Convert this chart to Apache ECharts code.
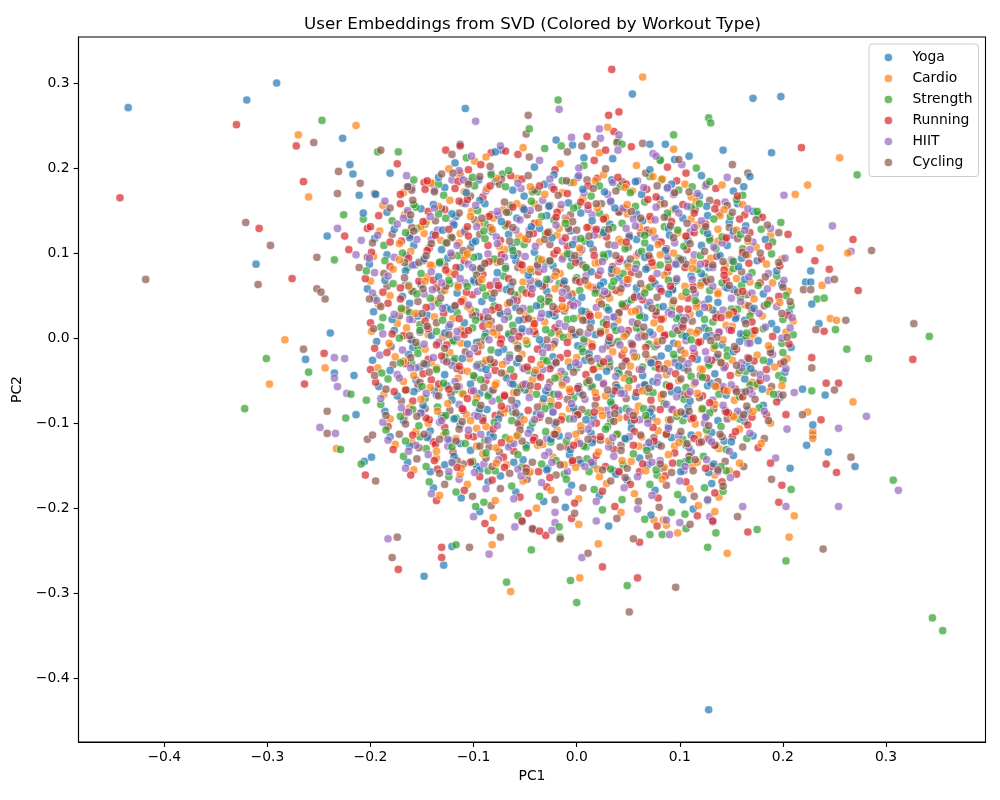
<!DOCTYPE html>
<html>
<head>
<meta charset="utf-8">
<title>User Embeddings from SVD</title>
<script src="https://cdn.jsdelivr.net/npm/echarts@6/dist/echarts.min.js"></script>
<style>
  html, body { margin: 0; padding: 0; background: #fff; }
  #chart { width: 1000px; height: 800px; }
</style>
</head>
<body>
<div id="chart"></div>
<script>
// ---- data (PC1, PC2) ----
var TYPES = ['Yoga', 'Cardio', 'Strength', 'Running', 'HIIT', 'Cycling'];
var COLORS = ['#1f77b4', '#ff7f0e', '#2ca02c', '#d62728', '#9467bd', '#8c564b'];

// outer / sparse points
var yogaEdge = [[-0.435,0.271],[-0.291,0.300],[-0.320,0.280],[-0.227,0.235],[-0.220,0.204],[-0.217,0.193],[-0.211,0.168],[-0.207,0.147],[-0.242,0.120],[-0.311,0.087],[-0.239,0.006],[-0.263,-0.025],[-0.235,-0.041],[-0.216,-0.044],[-0.214,-0.090],[-0.199,-0.140],[-0.206,-0.145],[0.171,0.282],[0.198,0.284],[0.142,0.221],[0.189,0.218],[0.168,0.190],[0.162,0.178],[0.227,0.079],[0.222,0.066],[0.227,0.066],[0.228,0.040],[0.235,0.017],[0.241,-0.067],[0.219,-0.060],[0.229,-0.102],[0.223,-0.126],[0.244,-0.134],[0.270,-0.151],[0.207,-0.153],[-0.148,-0.280],[-0.129,-0.267],[-0.121,-0.245],[0.128,-0.437],[0.054,0.287],[-0.108,0.270],[-0.113,0.228],[-0.181,0.194],[-0.195,0.169],[-0.073,0.221],[-0.020,0.233],[0.071,0.228],[0.086,0.228],[0.095,0.210],[0.007,0.212]];
var cardioEdge = [[-0.214,0.250],[-0.270,0.239],[-0.260,0.166],[-0.283,-0.002],[-0.244,-0.035],[-0.298,-0.054],[-0.233,-0.130],[0.255,0.212],[0.224,0.180],[0.212,0.169],[0.236,0.106],[0.263,0.100],[0.238,0.062],[0.246,0.023],[0.252,0.021],[0.268,-0.075],[0.224,-0.087],[0.229,-0.110],[0.229,-0.118],[0.211,-0.209],[0.206,-0.234],[0.134,-0.204],[0.146,-0.253],[-0.082,-0.243],[-0.064,-0.298],[0.003,-0.282],[0.021,-0.242],[0.098,-0.229],[0.075,-0.214],[0.087,-0.220],[0.064,0.307],[0.030,0.248],[-0.099,0.208]];
var strengthEdge = [[-0.247,0.256],[-0.226,0.145],[-0.207,0.140],[-0.235,0.092],[-0.301,-0.024],[-0.260,-0.040],[-0.219,-0.066],[-0.204,-0.073],[-0.322,-0.083],[-0.224,-0.094],[-0.229,-0.131],[-0.209,-0.148],[0.128,0.259],[0.130,0.253],[0.272,0.192],[0.175,0.149],[0.198,0.136],[0.233,0.046],[0.240,0.047],[0.251,0.010],[0.342,0.002],[0.262,-0.013],[0.283,-0.024],[0.228,-0.062],[0.307,-0.167],[0.208,-0.178],[0.203,-0.262],[0.175,-0.225],[0.135,-0.229],[0.127,-0.246],[0.345,-0.329],[0.355,-0.344],[0.127,-0.191],[0.142,-0.180],[-0.117,-0.243],[-0.068,-0.287],[-0.044,-0.249],[-0.016,-0.234],[-0.006,-0.285],[0.000,-0.311],[0.049,-0.291],[0.071,-0.231],[0.083,-0.231],[0.092,-0.205],[0.105,-0.207],[-0.018,0.280],[-0.046,0.246],[0.094,0.239],[0.081,0.210],[-0.193,0.219],[-0.173,0.219],[-0.083,0.192],[-0.015,0.226],[0.040,0.232]];
var runningEdge = [[-0.330,0.251],[-0.272,0.226],[-0.265,0.184],[-0.443,0.165],[-0.308,0.129],[-0.225,0.120],[-0.203,0.129],[-0.221,0.104],[-0.276,0.070],[-0.245,-0.018],[-0.264,-0.054],[-0.205,-0.161],[0.218,0.224],[0.156,0.167],[0.180,0.142],[0.205,0.122],[0.268,0.116],[0.216,0.104],[0.231,0.091],[0.245,0.081],[0.273,0.056],[0.240,0.008],[0.326,-0.025],[0.228,-0.023],[0.242,-0.053],[0.254,-0.053],[0.237,-0.096],[0.203,-0.090],[0.242,-0.148],[0.252,-0.158],[0.188,-0.147],[0.199,-0.173],[0.196,-0.193],[0.166,-0.228],[0.132,-0.215],[0.141,-0.169],[-0.173,-0.272],[-0.131,-0.258],[-0.131,-0.246],[-0.083,-0.226],[-0.053,-0.215],[-0.030,-0.232],[-0.036,-0.227],[0.025,-0.269],[0.059,-0.282],[0.061,-0.240],[0.034,0.316],[0.031,0.262],[0.041,0.266],[0.036,0.243],[0.028,0.221],[-0.113,0.226],[-0.174,0.205],[-0.083,0.218],[-0.069,0.220],[-0.105,0.198],[-0.148,0.183],[0.010,0.237]];
var hiitEdge = [[-0.232,0.129],[-0.209,0.115],[-0.214,0.098],[-0.201,0.094],[-0.235,-0.023],[-0.225,-0.024],[-0.235,-0.047],[-0.232,-0.057],[-0.223,-0.065],[-0.249,-0.105],[-0.234,-0.112],[0.201,0.168],[0.248,0.132],[0.266,0.102],[0.244,0.068],[0.211,-0.064],[0.281,-0.092],[0.204,-0.107],[0.254,-0.106],[0.312,-0.179],[0.254,-0.198],[0.193,-0.141],[0.203,-0.198],[0.161,-0.198],[0.132,-0.216],[-0.183,-0.236],[-0.085,-0.254],[-0.024,-0.226],[-0.021,-0.217],[0.005,-0.258],[0.090,-0.231],[0.087,-0.214],[0.129,-0.210],[-0.017,0.269],[-0.098,0.255],[0.022,0.246],[0.023,0.235],[0.041,0.239],[0.074,0.217],[-0.102,0.214],[-0.160,0.177],[-0.005,0.236]];
var cyclingEdge = [[-0.255,0.230],[-0.231,0.196],[-0.210,0.182],[-0.232,0.170],[-0.321,0.136],[-0.297,0.109],[-0.309,0.063],[-0.418,0.069],[-0.252,0.095],[-0.211,0.083],[-0.252,0.058],[-0.248,0.054],[-0.244,0.046],[-0.265,-0.013],[-0.242,-0.086],[-0.242,-0.112],[-0.203,-0.119],[-0.198,-0.114],[-0.195,-0.168],[0.151,0.204],[0.166,0.194],[0.196,0.124],[0.286,0.103],[0.250,0.069],[0.220,0.057],[0.227,0.057],[0.261,0.021],[0.232,0.010],[0.327,0.017],[0.228,-0.035],[0.250,-0.061],[0.219,-0.090],[0.229,-0.114],[0.266,-0.140],[0.189,-0.166],[0.239,-0.248],[0.156,-0.210],[-0.174,-0.234],[-0.179,-0.258],[-0.104,-0.246],[-0.074,-0.234],[-0.042,-0.225],[-0.016,-0.236],[0.011,-0.253],[0.051,-0.322],[0.096,-0.293],[0.055,-0.236],[-0.047,0.262],[-0.049,0.240],[0.039,0.230],[-0.190,0.221],[-0.120,0.194],[-0.113,0.191],[-0.105,0.184],[-0.094,0.190],[-0.164,0.178],[-0.196,0.170],[0.018,0.228],[0.005,0.226]];

// dense core points
var yogaCore = [[-0.118,0.206],[-0.079,0.219],[-0.041,0.201],[-0.004,0.227],[0.035,0.211],[0.071,0.198],[0.109,0.214],
[-0.163,0.178],[-0.134,0.189],[-0.107,0.171],[-0.079,0.184],[-0.051,0.167],[-0.022,0.192],[0.006,0.175],[0.034,0.186],[0.063,0.169],[0.092,0.181],[0.121,0.191],[0.152,0.173],
[-0.184,0.148],[-0.162,0.139],[-0.139,0.157],[-0.117,0.143],[-0.094,0.162],[-0.073,0.137],[-0.051,0.151],[-0.029,0.144],[-0.008,0.159],[0.015,0.138],[0.037,0.153],[0.058,0.146],[0.081,0.163],[0.103,0.141],[0.126,0.155],[0.148,0.136],[0.171,0.149],
[-0.196,0.117],[-0.177,0.128],[-0.158,0.109],[-0.139,0.122],[-0.119,0.133],[-0.101,0.112],[-0.082,0.125],[-0.063,0.107],[-0.044,0.131],[-0.024,0.118],[-0.006,0.126],[0.013,0.111],[0.032,0.134],[0.051,0.119],[0.071,0.106],[0.089,0.129],[0.108,0.115],[0.127,0.123],[0.146,0.109],[0.164,0.132],[0.183,0.116],
[-0.201,0.087],[-0.184,0.098],[-0.166,0.079],[-0.148,0.093],[-0.131,0.104],[-0.113,0.083],[-0.095,0.096],[-0.077,0.077],[-0.059,0.091],[-0.041,0.101],[-0.023,0.085],[-0.005,0.094],[0.014,0.078],[0.031,0.099],[0.049,0.088],[0.067,0.081],[0.086,0.103],[0.103,0.092],[0.121,0.076],[0.139,0.097],[0.157,0.084],[0.175,0.091],[0.194,0.079],
[-0.203,0.058],[-0.186,0.068],[-0.169,0.049],[-0.151,0.063],[-0.134,0.072],[-0.116,0.053],[-0.099,0.066],[-0.082,0.047],[-0.064,0.061],[-0.047,0.074],[-0.029,0.055],[-0.012,0.067],[0.005,0.048],[0.023,0.062],[0.041,0.071],[0.058,0.051],[0.076,0.064],[0.093,0.057],[0.111,0.073],[0.128,0.046],[0.146,0.059],[0.163,0.069],[0.181,0.052],[0.199,0.063],
[-0.197,0.031],[-0.179,0.022],[-0.162,0.041],[-0.145,0.027],[-0.127,0.036],[-0.109,0.018],[-0.092,0.043],[-0.074,0.029],[-0.056,0.021],[-0.039,0.038],[-0.021,0.026],[-0.004,0.044],[0.014,0.019],[0.031,0.033],[0.049,0.041],[0.066,0.024],[0.084,0.037],[0.102,0.016],[0.119,0.029],[0.137,0.042],[0.154,0.023],[0.172,0.035],[0.189,0.017],[0.206,0.031],
[-0.194,-0.004],[-0.177,0.009],[-0.159,-0.011],[-0.141,0.003],[-0.124,0.013],[-0.106,-0.007],[-0.088,0.006],[-0.071,-0.013],[-0.053,0.011],[-0.036,-0.002],[-0.018,0.008],[0.001,-0.009],[0.018,0.004],[0.036,0.014],[0.053,-0.006],[0.071,0.007],[0.089,-0.012],[0.106,0.002],[0.124,0.012],[0.141,-0.008],[0.159,0.005],[0.176,-0.003],[0.194,0.010],[0.208,-0.011],
[-0.198,-0.026],[-0.181,-0.038],[-0.163,-0.019],[-0.146,-0.031],[-0.128,-0.043],[-0.111,-0.024],[-0.093,-0.035],[-0.076,-0.017],[-0.058,-0.029],[-0.041,-0.041],[-0.023,-0.022],[-0.006,-0.034],[0.012,-0.018],[0.029,-0.039],[0.047,-0.027],[0.064,-0.044],[0.082,-0.021],[0.099,-0.033],[0.117,-0.025],[0.134,-0.042],[0.152,-0.016],[0.169,-0.036],[0.187,-0.028],[0.202,-0.040],
[-0.192,-0.057],[-0.174,-0.068],[-0.156,-0.049],[-0.138,-0.062],[-0.121,-0.073],[-0.103,-0.054],[-0.085,-0.066],[-0.068,-0.047],[-0.050,-0.061],[-0.032,-0.071],[-0.014,-0.052],[0.003,-0.064],[0.021,-0.046],[0.039,-0.058],[0.057,-0.069],[0.074,-0.051],[0.092,-0.063],[0.110,-0.074],[0.127,-0.056],[0.145,-0.067],[0.163,-0.048],[0.180,-0.060],[0.197,-0.070],
[-0.186,-0.086],[-0.168,-0.097],[-0.149,-0.079],[-0.131,-0.091],[-0.113,-0.102],[-0.094,-0.083],[-0.076,-0.095],[-0.058,-0.077],[-0.039,-0.089],[-0.021,-0.101],[-0.003,-0.082],[0.016,-0.093],[0.034,-0.078],[0.053,-0.099],[0.071,-0.087],[0.089,-0.104],[0.108,-0.081],[0.126,-0.092],[0.144,-0.085],[0.163,-0.098],[0.181,-0.079],
[-0.181,-0.116],[-0.162,-0.127],[-0.142,-0.109],[-0.123,-0.121],[-0.103,-0.132],[-0.084,-0.113],[-0.064,-0.125],[-0.045,-0.107],[-0.025,-0.119],[-0.006,-0.131],[0.014,-0.112],[0.033,-0.124],[0.053,-0.106],[0.072,-0.128],[0.092,-0.117],[0.111,-0.134],[0.131,-0.111],[0.150,-0.122],[0.171,-0.115],
[-0.164,-0.146],[-0.142,-0.157],[-0.119,-0.139],[-0.097,-0.151],[-0.074,-0.162],[-0.052,-0.143],[-0.029,-0.155],[-0.007,-0.137],[0.016,-0.149],[0.038,-0.160],[0.061,-0.141],[0.083,-0.153],[0.106,-0.145],[0.128,-0.158],[0.152,-0.138],
[-0.139,-0.176],[-0.112,-0.188],[-0.086,-0.169],[-0.059,-0.181],[-0.032,-0.192],[-0.005,-0.173],[0.022,-0.185],[0.049,-0.167],[0.076,-0.179],[0.103,-0.190],[0.131,-0.171],
[-0.094,-0.204],[-0.053,-0.216],[-0.011,-0.199],[0.031,-0.221],[0.072,-0.208],[0.113,-0.201]];

var cardioCore = [[-0.124,0.199],[-0.088,0.213],[-0.052,0.224],[-0.016,0.205],[0.022,0.218],[0.058,0.203],[0.094,0.222],
[-0.168,0.171],[-0.141,0.182],[-0.113,0.194],[-0.087,0.176],[-0.058,0.188],[-0.031,0.169],[-0.003,0.183],[0.026,0.192],[0.054,0.173],[0.083,0.187],[0.111,0.166],[0.141,0.180],
[-0.188,0.156],[-0.167,0.145],[-0.146,0.137],[-0.123,0.162],[-0.102,0.149],[-0.081,0.141],[-0.058,0.158],[-0.037,0.136],[-0.016,0.152],[0.006,0.164],[0.028,0.142],[0.049,0.157],[0.072,0.139],[0.094,0.151],[0.116,0.161],[0.139,0.144],[0.161,0.157],
[-0.191,0.126],[-0.172,0.111],[-0.151,0.131],[-0.132,0.115],[-0.113,0.123],[-0.094,0.135],[-0.075,0.108],[-0.056,0.120],[-0.036,0.113],[-0.017,0.129],[0.003,0.106],[0.022,0.122],[0.041,0.116],[0.061,0.130],[0.079,0.110],[0.098,0.124],[0.117,0.133],[0.137,0.114],[0.155,0.127],[0.174,0.107],[0.188,0.121],
[-0.197,0.096],[-0.178,0.081],[-0.161,0.102],[-0.142,0.086],[-0.124,0.077],[-0.106,0.099],[-0.088,0.088],[-0.070,0.104],[-0.052,0.080],[-0.034,0.092],[-0.016,0.076],[0.003,0.101],[0.021,0.089],[0.039,0.079],[0.058,0.097],[0.075,0.085],[0.094,0.100],[0.112,0.082],[0.130,0.094],[0.148,0.078],[0.166,0.098],[0.184,0.087],[0.199,0.093],
[-0.200,0.067],[-0.181,0.050],[-0.163,0.061],[-0.145,0.072],[-0.128,0.056],[-0.110,0.045],[-0.092,0.069],[-0.075,0.058],[-0.057,0.049],[-0.039,0.066],[-0.021,0.073],[-0.004,0.052],[0.014,0.060],[0.032,0.047],[0.049,0.069],[0.067,0.058],[0.085,0.074],[0.102,0.049],[0.120,0.062],[0.137,0.054],[0.155,0.070],[0.172,0.046],[0.190,0.065],[0.205,0.055],
[-0.192,0.039],[-0.174,0.017],[-0.156,0.029],[-0.138,0.044],[-0.120,0.023],[-0.103,0.034],[-0.085,0.016],[-0.067,0.040],[-0.049,0.027],[-0.031,0.019],[-0.014,0.037],[0.004,0.025],[0.022,0.043],[0.040,0.021],[0.057,0.032],[0.075,0.018],[0.093,0.041],[0.110,0.028],[0.128,0.036],[0.145,0.015],[0.163,0.039],[0.180,0.026],[0.197,0.042],[0.210,0.020],
[-0.199,0.008],[-0.182,-0.006],[-0.165,0.012],[-0.147,-0.013],[-0.130,0.001],[-0.112,0.010],[-0.095,-0.009],[-0.077,0.004],[-0.060,-0.003],[-0.042,0.013],[-0.025,-0.011],[-0.007,0.002],[0.011,-0.005],[0.028,0.009],[0.046,-0.014],[0.063,0.003],[0.081,0.011],[0.098,-0.007],[0.116,0.006],[0.133,-0.012],[0.151,0.014],[0.168,-0.001],[0.186,-0.009],[0.203,0.007],
[-0.193,-0.035],[-0.176,-0.022],[-0.158,-0.044],[-0.141,-0.029],[-0.123,-0.017],[-0.106,-0.039],[-0.088,-0.026],[-0.070,-0.042],[-0.053,-0.019],[-0.035,-0.031],[-0.018,-0.045],[0.000,-0.023],[0.017,-0.036],[0.035,-0.016],[0.052,-0.033],[0.070,-0.025],[0.087,-0.043],[0.105,-0.018],[0.122,-0.037],[0.140,-0.028],[0.157,-0.041],[0.175,-0.020],[0.192,-0.034],[0.204,-0.024],
[-0.187,-0.066],[-0.168,-0.051],[-0.151,-0.072],[-0.133,-0.059],[-0.115,-0.047],[-0.097,-0.070],[-0.079,-0.055],[-0.061,-0.064],[-0.043,-0.049],[-0.025,-0.074],[-0.007,-0.060],[0.010,-0.053],[0.028,-0.068],[0.046,-0.047],[0.064,-0.062],[0.082,-0.071],[0.099,-0.050],[0.117,-0.065],[0.135,-0.057],[0.153,-0.073],[0.170,-0.052],[0.187,-0.063],[0.199,-0.056],
[-0.181,-0.095],[-0.162,-0.082],[-0.144,-0.100],[-0.125,-0.077],[-0.107,-0.090],[-0.088,-0.104],[-0.070,-0.084],[-0.051,-0.096],[-0.033,-0.076],[-0.014,-0.092],[0.004,-0.103],[0.023,-0.085],[0.041,-0.094],[0.060,-0.080],[0.078,-0.098],[0.097,-0.088],[0.115,-0.101],[0.134,-0.078],[0.152,-0.093],[0.171,-0.086],[0.188,-0.100],
[-0.176,-0.125],[-0.156,-0.110],[-0.136,-0.133],[-0.117,-0.118],[-0.097,-0.106],[-0.078,-0.129],[-0.058,-0.115],[-0.038,-0.126],[-0.019,-0.108],[0.001,-0.122],[0.021,-0.134],[0.040,-0.113],[0.060,-0.127],[0.079,-0.109],[0.099,-0.123],[0.118,-0.114],[0.138,-0.130],[0.158,-0.107],[0.179,-0.124],
[-0.158,-0.155],[-0.136,-0.141],[-0.113,-0.160],[-0.091,-0.136],[-0.068,-0.149],[-0.046,-0.158],[-0.023,-0.140],[-0.001,-0.152],[0.022,-0.163],[0.044,-0.144],[0.067,-0.156],[0.089,-0.137],[0.112,-0.150],[0.134,-0.161],[0.158,-0.147],
[-0.133,-0.185],[-0.106,-0.172],[-0.079,-0.191],[-0.052,-0.168],[-0.025,-0.179],[0.002,-0.189],[0.029,-0.171],[0.056,-0.183],[0.083,-0.166],[0.110,-0.177],[0.138,-0.187],
[-0.081,-0.211],[-0.039,-0.200],[0.002,-0.219],[0.043,-0.205],[0.084,-0.214],[0.118,-0.197]];

var strengthCore = [[-0.107,0.212],[-0.066,0.197],[-0.031,0.223],[0.007,0.203],[0.044,0.228],[0.081,0.209],[0.116,0.200],
[-0.158,0.186],[-0.129,0.168],[-0.099,0.179],[-0.072,0.193],[-0.043,0.172],[-0.014,0.185],[0.014,0.167],[0.042,0.178],[0.071,0.190],[0.099,0.174],[0.129,0.184],[0.161,0.168],
[-0.179,0.138],[-0.156,0.154],[-0.134,0.146],[-0.111,0.159],[-0.089,0.135],[-0.066,0.148],[-0.044,0.161],[-0.022,0.139],[0.001,0.155],[0.022,0.147],[0.044,0.135],[0.066,0.160],[0.088,0.143],[0.111,0.154],[0.133,0.140],[0.155,0.163],[0.176,0.145],
[-0.187,0.109],[-0.166,0.124],[-0.147,0.134],[-0.127,0.112],[-0.108,0.127],[-0.089,0.117],[-0.069,0.132],[-0.051,0.110],[-0.030,0.122],[-0.011,0.135],[0.008,0.114],[0.027,0.127],[0.047,0.105],[0.066,0.121],[0.085,0.131],[0.104,0.108],[0.123,0.126],[0.141,0.119],[0.161,0.105],[0.179,0.128],[0.190,0.113],
[-0.204,0.079],[-0.186,0.091],[-0.169,0.100],[-0.151,0.076],[-0.133,0.089],[-0.115,0.097],[-0.098,0.080],[-0.080,0.093],[-0.062,0.103],[-0.044,0.078],[-0.026,0.090],[-0.009,0.099],[0.009,0.083],[0.027,0.095],[0.045,0.076],[0.063,0.102],[0.081,0.086],[0.099,0.094],[0.117,0.081],[0.135,0.105],[0.152,0.090],[0.170,0.077],[0.189,0.099],
[-0.196,0.047],[-0.178,0.064],[-0.160,0.055],[-0.142,0.047],[-0.124,0.068],[-0.106,0.061],[-0.088,0.050],[-0.071,0.073],[-0.053,0.057],[-0.035,0.046],[-0.017,0.064],[0.000,0.071],[0.018,0.053],[0.036,0.067],[0.053,0.045],[0.071,0.060],[0.089,0.068],[0.106,0.054],[0.124,0.072],[0.141,0.065],[0.159,0.048],[0.176,0.062],[0.194,0.073],[0.203,0.050],
[-0.188,0.024],[-0.170,0.035],[-0.152,0.016],[-0.134,0.041],[-0.116,0.030],[-0.098,0.021],[-0.080,0.038],[-0.062,0.015],[-0.045,0.034],[-0.027,0.043],[-0.009,0.022],[0.009,0.031],[0.026,0.018],[0.044,0.040],[0.062,0.027],[0.079,0.036],[0.097,0.023],[0.115,0.044],[0.132,0.019],[0.150,0.034],[0.168,0.026],[0.185,0.040],[0.200,0.022],[0.208,0.038],
[-0.190,0.013],[-0.172,0.000],[-0.154,-0.010],[-0.136,0.008],[-0.119,-0.004],[-0.101,0.012],[-0.083,-0.014],[-0.066,0.005],[-0.048,-0.007],[-0.030,0.010],[-0.013,0.001],[0.005,-0.012],[0.023,0.008],[0.040,-0.004],[0.058,0.012],[0.076,-0.010],[0.093,0.005],[0.111,-0.002],[0.128,0.009],[0.146,-0.014],[0.164,0.000],[0.181,0.011],[0.199,-0.006],[0.210,0.004],
[-0.189,-0.041],[-0.171,-0.029],[-0.154,-0.018],[-0.136,-0.037],[-0.118,-0.024],[-0.100,-0.044],[-0.083,-0.031],[-0.065,-0.020],[-0.047,-0.038],[-0.029,-0.027],[-0.012,-0.043],[0.006,-0.016],[0.023,-0.030],[0.041,-0.041],[0.058,-0.022],[0.076,-0.034],[0.094,-0.019],[0.111,-0.045],[0.129,-0.030],[0.146,-0.021],[0.164,-0.039],[0.181,-0.026],[0.196,-0.044],[0.200,-0.017],
[-0.183,-0.048],[-0.165,-0.061],[-0.147,-0.071],[-0.129,-0.053],[-0.111,-0.065],[-0.093,-0.049],[-0.075,-0.072],[-0.057,-0.058],[-0.039,-0.066],[-0.021,-0.047],[-0.003,-0.070],[0.015,-0.057],[0.033,-0.075],[0.051,-0.050],[0.069,-0.063],[0.087,-0.055],[0.104,-0.072],[0.122,-0.046],[0.140,-0.059],[0.158,-0.069],[0.175,-0.054],[0.191,-0.066],[0.200,-0.049],
[-0.190,-0.078],[-0.171,-0.092],[-0.153,-0.103],[-0.135,-0.081],[-0.117,-0.094],[-0.098,-0.076],[-0.080,-0.099],[-0.062,-0.087],[-0.043,-0.100],[-0.025,-0.080],[-0.007,-0.095],[0.011,-0.088],[0.030,-0.104],[0.048,-0.083],[0.067,-0.091],[0.085,-0.077],[0.103,-0.097],[0.122,-0.083],[0.140,-0.104],[0.158,-0.090],[0.177,-0.082],
[-0.185,-0.108],[-0.166,-0.121],[-0.146,-0.130],[-0.127,-0.111],[-0.108,-0.124],[-0.088,-0.135],[-0.069,-0.117],[-0.049,-0.129],[-0.030,-0.110],[-0.010,-0.121],[0.009,-0.128],[0.028,-0.107],[0.048,-0.119],[0.068,-0.132],[0.087,-0.113],[0.106,-0.126],[0.126,-0.108],[0.145,-0.131],[0.165,-0.118],
[-0.168,-0.139],[-0.146,-0.151],[-0.124,-0.163],[-0.101,-0.145],[-0.079,-0.156],[-0.057,-0.137],[-0.034,-0.148],[-0.012,-0.160],[0.010,-0.142],[0.033,-0.154],[0.055,-0.136],[0.078,-0.161],[0.100,-0.147],[0.123,-0.139],[0.145,-0.156],
[-0.143,-0.169],[-0.117,-0.181],[-0.090,-0.193],[-0.063,-0.174],[-0.036,-0.186],[-0.010,-0.166],[0.017,-0.178],[0.044,-0.190],[0.071,-0.172],[0.098,-0.184],[0.124,-0.176],
[-0.098,-0.198],[-0.057,-0.209],[-0.017,-0.222],[0.025,-0.202],[0.066,-0.213],[0.106,-0.224]];

var runningCore = [[-0.127,0.221],[-0.093,0.204],[-0.057,0.216],[-0.021,0.198],[0.017,0.209],[0.053,0.225],[0.088,0.201],
[-0.171,0.169],[-0.145,0.185],[-0.118,0.176],[-0.091,0.166],[-0.064,0.191],[-0.036,0.179],[-0.009,0.170],[0.020,0.188],[0.048,0.181],[0.077,0.166],[0.106,0.194],[0.135,0.176],
[-0.192,0.144],[-0.171,0.158],[-0.149,0.137],[-0.128,0.151],[-0.106,0.163],[-0.085,0.143],[-0.062,0.154],[-0.041,0.135],[-0.019,0.148],[0.004,0.160],[0.026,0.140],[0.047,0.152],[0.069,0.163],[0.092,0.137],[0.114,0.147],[0.136,0.159],[0.158,0.140],
[-0.200,0.131],[-0.181,0.113],[-0.162,0.121],[-0.143,0.106],[-0.124,0.128],[-0.105,0.120],[-0.086,0.109],[-0.067,0.134],[-0.048,0.116],[-0.028,0.124],[-0.009,0.108],[0.010,0.130],[0.029,0.119],[0.048,0.113],[0.068,0.127],[0.087,0.105],[0.106,0.120],[0.125,0.134],[0.144,0.116],[0.168,0.124],[0.186,0.108],
[-0.199,0.101],[-0.181,0.084],[-0.163,0.094],[-0.145,0.103],[-0.127,0.080],[-0.109,0.091],[-0.091,0.075],[-0.073,0.098],[-0.055,0.087],[-0.037,0.078],[-0.019,0.103],[-0.001,0.089],[0.017,0.097],[0.035,0.084],[0.053,0.077],[0.071,0.094],[0.089,0.083],[0.107,0.104],[0.125,0.088],[0.143,0.080],[0.161,0.101],[0.179,0.093],[0.197,0.085],
[-0.205,0.070],[-0.188,0.054],[-0.171,0.046],[-0.153,0.067],[-0.136,0.059],[-0.118,0.075],[-0.101,0.051],[-0.084,0.062],[-0.066,0.070],[-0.049,0.053],[-0.031,0.063],[-0.014,0.046],[0.003,0.066],[0.021,0.074],[0.038,0.056],[0.056,0.048],[0.073,0.070],[0.091,0.061],[0.108,0.047],[0.126,0.066],[0.143,0.074],[0.161,0.055],[0.178,0.065],[0.196,0.049],
[-0.200,0.018],[-0.183,0.041],[-0.165,0.033],[-0.147,0.020],[-0.129,0.029],[-0.112,0.043],[-0.094,0.025],[-0.076,0.036],[-0.058,0.044],[-0.041,0.017],[-0.023,0.030],[-0.006,0.039],[0.012,0.028],[0.029,0.016],[0.047,0.037],[0.064,0.045],[0.082,0.022],[0.100,0.034],[0.117,0.041],[0.135,0.024],[0.152,0.031],[0.170,0.019],[0.187,0.044],[0.205,0.027],
[-0.196,-0.012],[-0.179,0.005],[-0.161,-0.002],[-0.144,0.011],[-0.126,-0.008],[-0.109,0.004],[-0.091,0.014],[-0.074,-0.006],[-0.056,0.002],[-0.038,-0.013],[-0.021,0.012],[-0.003,0.006],[0.015,-0.010],[0.032,0.001],[0.050,0.009],[0.067,-0.011],[0.085,0.003],[0.103,0.013],[0.120,-0.004],[0.138,0.007],[0.155,-0.013],[0.173,0.009],[0.190,0.002],[0.206,-0.007],
[-0.200,-0.037],[-0.184,-0.017],[-0.166,-0.030],[-0.149,-0.042],[-0.131,-0.021],[-0.114,-0.033],[-0.096,-0.016],[-0.079,-0.038],[-0.061,-0.045],[-0.044,-0.025],[-0.026,-0.036],[-0.009,-0.018],[0.009,-0.043],[0.026,-0.028],[0.044,-0.020],[0.061,-0.037],[0.079,-0.031],[0.096,-0.042],[0.114,-0.018],[0.131,-0.026],[0.149,-0.044],[0.166,-0.023],[0.184,-0.037],[0.198,-0.030],
[-0.195,-0.052],[-0.177,-0.063],[-0.159,-0.074],[-0.141,-0.049],[-0.124,-0.060],[-0.106,-0.071],[-0.088,-0.050],[-0.070,-0.067],[-0.052,-0.055],[-0.035,-0.046],[-0.017,-0.068],[0.001,-0.059],[0.019,-0.070],[0.037,-0.062],[0.055,-0.048],[0.072,-0.073],[0.090,-0.056],[0.108,-0.066],[0.126,-0.047],[0.143,-0.061],[0.161,-0.069],[0.178,-0.050],[0.194,-0.075],
[-0.183,-0.104],[-0.165,-0.087],[-0.146,-0.094],[-0.128,-0.105],[-0.110,-0.085],[-0.091,-0.097],[-0.073,-0.080],[-0.055,-0.102],[-0.036,-0.093],[-0.018,-0.079],[0.001,-0.090],[0.019,-0.100],[0.037,-0.082],[0.056,-0.096],[0.074,-0.105],[0.092,-0.084],[0.111,-0.095],[0.129,-0.076],[0.147,-0.088],[0.166,-0.102],[0.184,-0.090],
[-0.178,-0.131],[-0.159,-0.114],[-0.139,-0.122],[-0.120,-0.134],[-0.100,-0.116],[-0.081,-0.107],[-0.061,-0.133],[-0.042,-0.120],[-0.022,-0.113],[-0.003,-0.126],[0.017,-0.119],[0.036,-0.131],[0.056,-0.110],[0.075,-0.121],[0.095,-0.135],[0.114,-0.118],[0.134,-0.126],[0.154,-0.110],[0.176,-0.129],
[-0.161,-0.161],[-0.138,-0.144],[-0.116,-0.152],[-0.094,-0.163],[-0.071,-0.140],[-0.049,-0.153],[-0.026,-0.164],[-0.004,-0.146],[0.019,-0.138],[0.041,-0.157],[0.064,-0.148],[0.086,-0.162],[0.109,-0.139],[0.131,-0.151],[0.155,-0.160],
[-0.136,-0.191],[-0.109,-0.179],[-0.082,-0.167],[-0.055,-0.187],[-0.029,-0.175],[-0.002,-0.194],[0.025,-0.180],[0.052,-0.172],[0.079,-0.188],[0.106,-0.169],[0.134,-0.182],
[-0.089,-0.218],[-0.047,-0.206],[-0.005,-0.212],[0.037,-0.198],[0.078,-0.221],[0.117,-0.209]];

var hiitCore = [[-0.114,0.197],[-0.074,0.226],[-0.036,0.209],[0.002,0.200],[0.040,0.221],[0.077,0.214],[0.102,0.204],
[-0.165,0.191],[-0.138,0.174],[-0.110,0.186],[-0.083,0.194],[-0.054,0.176],[-0.026,0.187],[0.002,0.191],[0.030,0.169],[0.059,0.185],[0.088,0.177],[0.117,0.170],[0.146,0.189],
[-0.186,0.161],[-0.164,0.150],[-0.142,0.143],[-0.120,0.135],[-0.098,0.156],[-0.077,0.149],[-0.055,0.139],[-0.033,0.162],[-0.011,0.141],[0.011,0.151],[0.033,0.161],[0.055,0.140],[0.077,0.154],[0.099,0.147],[0.121,0.138],[0.144,0.160],[0.166,0.152],
[-0.193,0.121],[-0.174,0.134],[-0.155,0.116],[-0.135,0.127],[-0.116,0.109],[-0.097,0.131],[-0.078,0.119],[-0.059,0.127],[-0.040,0.108],[-0.020,0.133],[-0.001,0.116],[0.018,0.126],[0.037,0.109],[0.057,0.132],[0.076,0.118],[0.095,0.112],[0.114,0.130],[0.133,0.107],[0.151,0.121],[0.171,0.113],[0.188,0.129],
[-0.196,0.077],[-0.177,0.095],[-0.159,0.086],[-0.141,0.078],[-0.122,0.100],[-0.105,0.087],[-0.086,0.099],[-0.069,0.084],[-0.050,0.096],[-0.032,0.081],[-0.014,0.093],[0.005,0.104],[0.023,0.079],[0.041,0.090],[0.060,0.100],[0.078,0.076],[0.096,0.087],[0.114,0.098],[0.132,0.083],[0.150,0.092],[0.168,0.104],[0.186,0.076],[0.202,0.094],
[-0.198,0.053],[-0.183,0.073],[-0.166,0.063],[-0.148,0.052],[-0.131,0.065],[-0.113,0.070],[-0.096,0.055],[-0.078,0.067],[-0.061,0.045],[-0.043,0.058],[-0.026,0.069],[-0.008,0.050],[0.009,0.073],[0.027,0.055],[0.045,0.064],[0.062,0.049],[0.080,0.059],[0.097,0.070],[0.115,0.052],[0.132,0.061],[0.150,0.047],[0.167,0.072],[0.185,0.058],[0.201,0.068],
[-0.194,0.044],[-0.177,0.028],[-0.159,0.022],[-0.141,0.037],[-0.123,0.016],[-0.105,0.039],[-0.088,0.031],[-0.070,0.022],[-0.052,0.035],[-0.034,0.029],[-0.017,0.017],[0.001,0.041],[0.019,0.036],[0.036,0.025],[0.054,0.019],[0.071,0.042],[0.089,0.030],[0.106,0.024],[0.124,0.040],[0.142,0.033],[0.159,0.043],[0.177,0.029],[0.194,0.037],[0.209,0.024],
[-0.188,0.005],[-0.169,-0.014],[-0.152,0.007],[-0.134,-0.005],[-0.116,0.001],[-0.099,-0.012],[-0.081,0.011],[-0.063,-0.001],[-0.046,0.008],[-0.028,-0.011],[-0.011,0.014],[0.007,-0.004],[0.025,-0.013],[0.043,0.010],[0.060,0.001],[0.078,-0.008],[0.096,0.012],[0.113,-0.012],[0.131,0.003],[0.148,0.010],[0.166,-0.006],[0.183,0.013],[0.199,0.000],[0.207,0.012],
[-0.191,-0.020],[-0.174,-0.043],[-0.156,-0.035],[-0.139,-0.023],[-0.121,-0.032],[-0.104,-0.019],[-0.086,-0.044],[-0.068,-0.027],[-0.051,-0.036],[-0.033,-0.017],[-0.015,-0.039],[0.002,-0.031],[0.020,-0.024],[0.038,-0.045],[0.055,-0.017],[0.073,-0.029],[0.090,-0.039],[0.108,-0.030],[0.125,-0.016],[0.143,-0.035],[0.160,-0.029],[0.178,-0.043],[0.190,-0.019],[0.203,-0.036],
[-0.190,-0.071],[-0.172,-0.047],[-0.154,-0.059],[-0.136,-0.067],[-0.118,-0.051],[-0.100,-0.062],[-0.082,-0.074],[-0.064,-0.053],[-0.046,-0.070],[-0.028,-0.058],[-0.010,-0.049],[0.008,-0.072],[0.026,-0.054],[0.043,-0.065],[0.061,-0.058],[0.079,-0.046],[0.097,-0.069],[0.115,-0.052],[0.132,-0.073],[0.150,-0.055],[0.168,-0.061],[0.184,-0.047],[0.196,-0.066],
[-0.188,-0.099],[-0.170,-0.082],[-0.151,-0.088],[-0.133,-0.099],[-0.114,-0.078],[-0.096,-0.092],[-0.077,-0.103],[-0.060,-0.080],[-0.041,-0.096],[-0.023,-0.087],[-0.005,-0.077],[0.014,-0.101],[0.032,-0.090],[0.051,-0.086],[0.069,-0.100],[0.087,-0.078],[0.106,-0.090],[0.124,-0.100],[0.142,-0.079],[0.161,-0.093],[0.182,-0.086],
[-0.183,-0.120],[-0.163,-0.133],[-0.144,-0.115],[-0.125,-0.127],[-0.105,-0.108],[-0.086,-0.120],[-0.066,-0.128],[-0.047,-0.112],[-0.027,-0.134],[-0.008,-0.115],[0.011,-0.107],[0.031,-0.128],[0.051,-0.116],[0.070,-0.123],[0.089,-0.106],[0.109,-0.129],[0.128,-0.119],[0.148,-0.133],[0.168,-0.112],
[-0.166,-0.153],[-0.144,-0.137],[-0.121,-0.146],[-0.099,-0.158],[-0.076,-0.143],[-0.054,-0.162],[-0.031,-0.138],[-0.009,-0.157],[0.014,-0.146],[0.036,-0.139],[0.059,-0.163],[0.081,-0.144],[0.104,-0.156],[0.126,-0.143],[0.149,-0.164],
[-0.141,-0.183],[-0.114,-0.166],[-0.088,-0.177],[-0.061,-0.189],[-0.034,-0.170],[-0.008,-0.181],[0.019,-0.192],[0.046,-0.176],[0.073,-0.185],[0.100,-0.168],[0.127,-0.190],
[-0.100,-0.210],[-0.060,-0.222],[-0.021,-0.205],[0.019,-0.215],[0.059,-0.201],[0.100,-0.217]];

var cyclingCore = [[-0.121,0.216],[-0.084,0.202],[-0.046,0.213],[-0.009,0.219],[0.028,0.199],[0.064,0.229],[0.099,0.210],
[-0.160,0.174],[-0.131,0.193],[-0.103,0.167],[-0.075,0.181],[-0.047,0.191],[-0.018,0.168],[0.010,0.186],[0.038,0.173],[0.067,0.194],[0.095,0.171],[0.125,0.179],[0.156,0.185],
[-0.181,0.153],[-0.159,0.162],[-0.137,0.138],[-0.114,0.147],[-0.092,0.141],[-0.070,0.160],[-0.048,0.145],[-0.026,0.156],[-0.004,0.137],[0.019,0.158],[0.041,0.148],[0.062,0.141],[0.085,0.158],[0.107,0.135],[0.129,0.162],[0.151,0.148],[0.174,0.139],
[-0.198,0.112],[-0.179,0.122],[-0.160,0.130],[-0.141,0.111],[-0.121,0.118],[-0.103,0.106],[-0.084,0.130],[-0.065,0.114],[-0.046,0.122],[-0.026,0.110],[-0.008,0.129],[0.012,0.120],[0.031,0.128],[0.050,0.107],[0.070,0.124],[0.091,0.132],[0.110,0.111],[0.129,0.118],[0.148,0.130],[0.166,0.117],[0.185,0.133],
[-0.203,0.095],[-0.187,0.076],[-0.167,0.089],[-0.146,0.097],[-0.128,0.086],[-0.110,0.103],[-0.093,0.082],[-0.074,0.090],[-0.057,0.099],[-0.038,0.086],[-0.020,0.078],[-0.002,0.097],[0.016,0.104],[0.034,0.076],[0.052,0.093],[0.070,0.097],[0.088,0.078],[0.106,0.087],[0.124,0.102],[0.142,0.090],[0.160,0.078],[0.178,0.100],[0.196,0.089],
[-0.201,0.046],[-0.184,0.061],[-0.167,0.071],[-0.149,0.058],[-0.132,0.047],[-0.115,0.062],[-0.097,0.074],[-0.080,0.053],[-0.062,0.066],[-0.045,0.061],[-0.027,0.048],[-0.010,0.058],[0.008,0.068],[0.025,0.050],[0.043,0.058],[0.060,0.075],[0.078,0.048],[0.095,0.066],[0.113,0.057],[0.130,0.069],[0.148,0.062],[0.165,0.051],[0.183,0.072],[0.200,0.060],
[-0.190,0.037],[-0.172,0.026],[-0.154,0.043],[-0.136,0.018],[-0.118,0.038],[-0.101,0.027],[-0.083,0.020],[-0.065,0.042],[-0.047,0.023],[-0.030,0.043],[-0.012,0.032],[0.006,0.021],[0.024,0.040],[0.041,0.029],[0.059,0.017],[0.077,0.031],[0.094,0.044],[0.112,0.020],[0.129,0.035],[0.147,0.027],[0.164,0.017],[0.182,0.038],[0.199,0.029],[0.207,0.043],
[-0.197,0.011],[-0.180,-0.010],[-0.162,0.003],[-0.145,0.014],[-0.128,-0.012],[-0.110,0.008],[-0.093,-0.004],[-0.075,0.012],[-0.057,-0.012],[-0.040,0.005],[-0.022,-0.007],[-0.005,0.010],[0.013,0.012],[0.030,-0.009],[0.048,0.005],[0.065,0.013],[0.083,-0.003],[0.101,-0.014],[0.118,0.009],[0.136,0.001],[0.153,-0.010],[0.171,0.008],[0.188,-0.013],[0.204,0.001],
[-0.196,-0.044],[-0.178,-0.031],[-0.161,-0.023],[-0.143,-0.040],[-0.126,-0.028],[-0.108,-0.016],[-0.091,-0.030],[-0.073,-0.041],[-0.056,-0.024],[-0.038,-0.043],[-0.020,-0.028],[-0.003,-0.040],[0.014,-0.027],[0.032,-0.034],[0.050,-0.042],[0.067,-0.019],[0.085,-0.036],[0.102,-0.025],[0.120,-0.044],[0.137,-0.019],[0.155,-0.032],[0.172,-0.041],[0.188,-0.017],[0.201,-0.028],
[-0.185,-0.060],[-0.170,-0.074],[-0.152,-0.052],[-0.134,-0.068],[-0.116,-0.057],[-0.099,-0.046],[-0.081,-0.061],[-0.063,-0.073],[-0.045,-0.056],[-0.027,-0.064],[-0.009,-0.072],[0.012,-0.050],[0.030,-0.061],[0.048,-0.071],[0.066,-0.055],[0.084,-0.066],[0.101,-0.048],[0.119,-0.070],[0.137,-0.051],[0.155,-0.063],[0.173,-0.072],[0.189,-0.057],[0.200,-0.067],
[-0.185,-0.091],[-0.166,-0.101],[-0.147,-0.083],[-0.129,-0.093],[-0.111,-0.098],[-0.093,-0.079],[-0.074,-0.089],[-0.057,-0.100],[-0.038,-0.081],[-0.020,-0.099],[-0.001,-0.087],[0.018,-0.079],[0.036,-0.098],[0.055,-0.091],[0.073,-0.083],[0.091,-0.096],[0.109,-0.086],[0.128,-0.103],[0.146,-0.095],[0.165,-0.080],[0.186,-0.097],
[-0.172,-0.113],[-0.153,-0.129],[-0.133,-0.119],[-0.114,-0.107],[-0.094,-0.127],[-0.075,-0.134],[-0.055,-0.108],[-0.036,-0.123],[-0.016,-0.128],[0.004,-0.109],[0.023,-0.120],[0.043,-0.132],[0.062,-0.114],[0.082,-0.127],[0.101,-0.110],[0.121,-0.122],[0.141,-0.116],[0.161,-0.128],[0.182,-0.118],
[-0.155,-0.142],[-0.133,-0.159],[-0.110,-0.148],[-0.088,-0.141],[-0.065,-0.159],[-0.043,-0.146],[-0.020,-0.161],[0.002,-0.143],[0.025,-0.155],[0.047,-0.164],[0.070,-0.139],[0.092,-0.158],[0.115,-0.143],[0.137,-0.155],[0.162,-0.151],
[-0.128,-0.172],[-0.101,-0.186],[-0.074,-0.177],[-0.048,-0.166],[-0.021,-0.190],[0.006,-0.176],[0.033,-0.168],[0.060,-0.192],[0.087,-0.173],[0.114,-0.186],[0.142,-0.174],
[-0.083,-0.197],[-0.043,-0.224],[-0.002,-0.206],[0.039,-0.212],[0.080,-0.199],[0.110,-0.219]];

// extra points in the densest middle part
var yogaInner = [[-0.128,0.177],[-0.095,0.186],[-0.062,0.174],[-0.031,0.181],[0.001,0.189],[0.027,0.172],[0.057,0.184],[0.088,0.176],[0.119,0.167],
[-0.151,0.152],[-0.121,0.146],[-0.089,0.158],[-0.058,0.141],[-0.027,0.155],[0.004,0.147],[0.033,0.160],[0.064,0.138],[0.096,0.152],[0.127,0.144],[0.156,0.158],
[-0.162,0.118],[-0.130,0.127],[-0.098,0.114],[-0.066,0.122],[-0.036,0.129],[-0.004,0.110],[0.026,0.124],[0.058,0.116],[0.090,0.121],[0.121,0.109],[0.152,0.126],
[-0.157,0.086],[-0.125,0.094],[-0.092,0.083],[-0.061,0.097],[-0.030,0.088],[0.002,0.092],[0.034,0.081],[0.066,0.095],[0.097,0.087],[0.128,0.083],[0.160,0.094],
[-0.163,0.062],[-0.131,0.055],[-0.100,0.068],[-0.068,0.057],[-0.037,0.064],[-0.005,0.051],[0.026,0.066],[0.058,0.059],[0.089,0.052],[0.121,0.065],[0.152,0.057],
[-0.154,0.026],[-0.122,0.034],[-0.090,0.022],[-0.059,0.036],[-0.027,0.028],[0.005,0.032],[0.037,0.024],[0.069,0.038],[0.100,0.025],[0.132,0.033],[0.163,0.021],
[-0.160,-0.002],[-0.128,0.006],[-0.097,-0.005],[-0.065,0.003],[-0.033,-0.008],[-0.001,0.004],[0.031,-0.003],[0.062,0.008],[0.094,-0.006],[0.126,0.002],[0.158,-0.004],
[-0.152,-0.034],[-0.120,-0.027],[-0.088,-0.037],[-0.056,-0.024],[-0.024,-0.032],[0.008,-0.026],[0.040,-0.038],[0.072,-0.029],[0.104,-0.035],[0.136,-0.023],[0.165,-0.031],
[-0.158,-0.063],[-0.126,-0.056],[-0.094,-0.065],[-0.062,-0.054],[-0.030,-0.062],[0.002,-0.057],[0.034,-0.066],[0.066,-0.055],[0.098,-0.061],[0.130,-0.053],[0.160,-0.064],
[-0.151,-0.088],[-0.119,-0.095],[-0.087,-0.084],[-0.055,-0.092],[-0.023,-0.087],[0.009,-0.096],[0.041,-0.085],[0.073,-0.093],[0.105,-0.089],[0.137,-0.097],[0.166,-0.085],
[-0.145,-0.117],[-0.113,-0.124],[-0.081,-0.116],[-0.049,-0.126],[-0.017,-0.115],[0.015,-0.123],[0.047,-0.118],[0.079,-0.125],[0.111,-0.114],[0.143,-0.121],
[-0.128,-0.149],[-0.094,-0.155],[-0.061,-0.146],[-0.028,-0.153],[0.004,-0.147],[0.036,-0.156],[0.069,-0.149],[0.101,-0.157],[0.133,-0.148]];

var cardioInner = [[-0.141,0.183],[-0.109,0.172],[-0.078,0.188],[-0.045,0.178],[-0.014,0.171],[0.018,0.185],[0.047,0.177],[0.074,0.190],[0.105,0.181],
[-0.164,0.147],[-0.134,0.155],[-0.103,0.143],[-0.071,0.151],[-0.041,0.158],[-0.010,0.139],[0.020,0.153],[0.049,0.146],[0.081,0.157],[0.111,0.140],[0.143,0.151],
[-0.148,0.123],[-0.114,0.112],[-0.082,0.128],[-0.050,0.117],[-0.019,0.121],[0.012,0.131],[0.043,0.113],[0.074,0.126],[0.106,0.119],[0.137,0.128],[0.166,0.114],
[-0.172,0.092],[-0.140,0.085],[-0.108,0.097],[-0.077,0.089],[-0.045,0.081],[-0.013,0.096],[0.018,0.088],[0.050,0.084],[0.081,0.098],[0.113,0.090],[0.144,0.086],
[-0.147,0.067],[-0.115,0.060],[-0.083,0.053],[-0.052,0.066],[-0.021,0.058],[0.011,0.062],[0.042,0.054],[0.074,0.067],[0.105,0.061],[0.137,0.052],[0.168,0.066],
[-0.170,0.033],[-0.138,0.025],[-0.106,0.037],[-0.074,0.029],[-0.043,0.021],[-0.011,0.035],[0.021,0.027],[0.053,0.031],[0.084,0.023],[0.116,0.037],[0.148,0.028],
[-0.144,0.004],[-0.112,-0.006],[-0.081,0.007],[-0.049,-0.003],[-0.017,0.005],[0.015,-0.007],[0.046,0.002],[0.078,-0.004],[0.110,0.007],[0.142,-0.002],[0.171,0.005],
[-0.168,-0.027],[-0.136,-0.035],[-0.104,-0.024],[-0.072,-0.031],[-0.040,-0.038],[-0.008,-0.028],[0.024,-0.033],[0.056,-0.022],[0.088,-0.030],[0.120,-0.036],[0.151,-0.026],
[-0.142,-0.058],[-0.110,-0.066],[-0.078,-0.053],[-0.046,-0.063],[-0.014,-0.055],[0.018,-0.064],[0.050,-0.058],[0.082,-0.067],[0.114,-0.054],[0.146,-0.062],[0.172,-0.057],
[-0.167,-0.094],[-0.135,-0.086],[-0.103,-0.097],[-0.071,-0.088],[-0.039,-0.095],[-0.007,-0.083],[0.025,-0.091],[0.057,-0.087],[0.089,-0.096],[0.121,-0.084],[0.152,-0.092],
[-0.160,-0.122],[-0.129,-0.114],[-0.097,-0.127],[-0.065,-0.119],[-0.033,-0.125],[-0.001,-0.113],[0.031,-0.121],[0.063,-0.116],[0.095,-0.127],[0.127,-0.117],
[-0.112,-0.153],[-0.078,-0.147],[-0.045,-0.157],[-0.012,-0.149],[0.020,-0.154],[0.053,-0.145],[0.085,-0.152],[0.117,-0.146],[0.148,-0.156]];

var strengthInner = [[-0.134,0.181],[-0.101,0.189],[-0.069,0.178],[-0.038,0.172],[-0.006,0.183],[0.022,0.179],[0.052,0.171],[0.082,0.186],[0.112,0.178],
[-0.158,0.157],[-0.127,0.141],[-0.096,0.150],[-0.064,0.156],[-0.034,0.143],[-0.003,0.153],[0.027,0.141],[0.057,0.155],[0.088,0.147],[0.119,0.158],[0.149,0.143],
[-0.155,0.129],[-0.122,0.119],[-0.090,0.126],[-0.058,0.113],[-0.027,0.125],[0.004,0.117],[0.035,0.130],[0.066,0.112],[0.098,0.127],[0.129,0.115],[0.159,0.122],
[-0.164,0.083],[-0.132,0.090],[-0.100,0.095],[-0.069,0.082],[-0.037,0.093],[-0.006,0.085],[0.026,0.098],[0.058,0.087],[0.089,0.091],[0.120,0.097],[0.152,0.082],
[-0.155,0.052],[-0.123,0.064],[-0.091,0.059],[-0.060,0.051],[-0.029,0.069],[0.003,0.056],[0.034,0.061],[0.066,0.053],[0.097,0.068],[0.129,0.056],[0.160,0.062],
[-0.162,0.030],[-0.130,0.021],[-0.098,0.031],[-0.066,0.025],[-0.035,0.039],[-0.003,0.023],[0.029,0.036],[0.061,0.026],[0.092,0.033],[0.124,0.022],[0.156,0.034],
[-0.152,0.009],[-0.120,-0.003],[-0.089,0.002],[-0.057,-0.009],[-0.025,0.006],[0.007,-0.001],[0.038,0.009],[0.070,-0.007],[0.102,0.004],[0.134,-0.009],[0.165,0.006],
[-0.160,-0.030],[-0.128,-0.022],[-0.096,-0.031],[-0.064,-0.037],[-0.032,-0.025],[0.000,-0.035],[0.032,-0.028],[0.064,-0.034],[0.096,-0.024],[0.128,-0.032],[0.158,-0.038],
[-0.150,-0.057],[-0.118,-0.061],[-0.086,-0.068],[-0.054,-0.059],[-0.022,-0.066],[0.010,-0.052],[0.042,-0.061],[0.074,-0.064],[0.106,-0.058],[0.138,-0.066],[0.168,-0.055],
[-0.159,-0.084],[-0.127,-0.091],[-0.095,-0.087],[-0.063,-0.097],[-0.031,-0.083],[0.001,-0.090],[0.033,-0.097],[0.065,-0.083],[0.097,-0.092],[0.129,-0.088],[0.158,-0.095],
[-0.152,-0.116],[-0.121,-0.128],[-0.089,-0.120],[-0.057,-0.114],[-0.025,-0.122],[0.007,-0.127],[0.039,-0.113],[0.071,-0.122],[0.103,-0.119],[0.135,-0.126],
[-0.120,-0.147],[-0.086,-0.156],[-0.053,-0.151],[-0.020,-0.144],[0.012,-0.157],[0.045,-0.149],[0.077,-0.155],[0.109,-0.143],[0.140,-0.151]];

var runningInner = [[-0.147,0.175],[-0.115,0.184],[-0.084,0.179],[-0.053,0.187],[-0.022,0.175],[0.011,0.179],[0.040,0.189],[0.068,0.175],[0.097,0.185],
[-0.144,0.149],[-0.114,0.161],[-0.083,0.145],[-0.052,0.153],[-0.020,0.142],[0.011,0.156],[0.041,0.149],[0.071,0.143],[0.103,0.157],[0.134,0.152],[0.163,0.145],
[-0.170,0.114],[-0.137,0.121],[-0.106,0.131],[-0.074,0.115],[-0.042,0.123],[-0.011,0.118],[0.019,0.128],[0.051,0.121],[0.082,0.113],[0.114,0.124],[0.145,0.118],
[-0.149,0.091],[-0.117,0.083],[-0.085,0.090],[-0.053,0.086],[-0.022,0.099],[0.010,0.081],[0.042,0.093],[0.073,0.089],[0.105,0.083],[0.136,0.096],[0.167,0.088],
[-0.171,0.059],[-0.139,0.068],[-0.107,0.054],[-0.076,0.062],[-0.044,0.052],[-0.013,0.064],[0.019,0.057],[0.050,0.069],[0.082,0.055],[0.113,0.061],[0.145,0.068],
[-0.146,0.036],[-0.114,0.023],[-0.082,0.033],[-0.051,0.022],[-0.019,0.034],[0.013,0.026],[0.045,0.038],[0.077,0.027],[0.108,0.034],[0.140,0.024],[0.170,0.032],
[-0.168,0.003],[-0.136,-0.008],[-0.105,0.009],[-0.073,-0.001],[-0.041,0.008],[-0.009,-0.005],[0.023,0.006],[0.054,-0.008],[0.086,0.004],[0.118,-0.005],[0.150,0.009],
[-0.144,-0.025],[-0.112,-0.038],[-0.080,-0.029],[-0.048,-0.034],[-0.016,-0.023],[0.016,-0.037],[0.048,-0.027],[0.080,-0.036],[0.112,-0.024],[0.144,-0.033],[0.172,-0.027],
[-0.166,-0.061],[-0.134,-0.054],[-0.102,-0.062],[-0.070,-0.068],[-0.038,-0.057],[-0.006,-0.063],[0.026,-0.053],[0.058,-0.064],[0.090,-0.057],[0.122,-0.068],[0.154,-0.060],
[-0.143,-0.096],[-0.111,-0.083],[-0.079,-0.091],[-0.047,-0.085],[-0.015,-0.096],[0.017,-0.087],[0.049,-0.093],[0.081,-0.084],[0.113,-0.094],[0.145,-0.087],[0.170,-0.093],
[-0.137,-0.125],[-0.105,-0.115],[-0.073,-0.123],[-0.041,-0.117],[-0.009,-0.128],[0.023,-0.116],[0.055,-0.126],[0.087,-0.113],[0.119,-0.123],[0.151,-0.116],
[-0.135,-0.154],[-0.103,-0.146],[-0.070,-0.152],[-0.037,-0.157],[-0.004,-0.144],[0.028,-0.151],[0.061,-0.157],[0.093,-0.147],[0.125,-0.153]];

var hiitInner = [[-0.121,0.186],[-0.088,0.173],[-0.057,0.182],[-0.024,0.178],[0.007,0.171],[0.035,0.183],[0.065,0.177],[0.094,0.169],[0.126,0.181],
[-0.168,0.141],[-0.138,0.153],[-0.108,0.158],[-0.076,0.144],[-0.045,0.150],[-0.015,0.157],[0.015,0.145],[0.045,0.153],[0.076,0.139],[0.107,0.155],[0.138,0.147],
[-0.141,0.116],[-0.109,0.125],[-0.077,0.111],[-0.046,0.127],[-0.014,0.114],[0.017,0.121],[0.048,0.129],[0.080,0.113],[0.110,0.125],[0.141,0.112],[0.163,0.127],
[-0.165,0.097],[-0.133,0.088],[-0.101,0.083],[-0.070,0.095],[-0.038,0.084],[-0.007,0.099],[0.025,0.090],[0.057,0.082],[0.088,0.096],[0.120,0.087],[0.151,0.091],
[-0.140,0.057],[-0.108,0.065],[-0.076,0.059],[-0.045,0.068],[-0.014,0.054],[0.018,0.059],[0.049,0.064],[0.081,0.058],[0.112,0.069],[0.144,0.060],[0.170,0.053],
[-0.162,0.022],[-0.130,0.035],[-0.098,0.027],[-0.067,0.031],[-0.035,0.024],[-0.003,0.038],[0.029,0.022],[0.060,0.034],[0.092,0.028],[0.124,0.036],[0.155,0.025],
[-0.148,-0.007],[-0.116,0.008],[-0.085,-0.002],[-0.053,0.007],[-0.021,-0.004],[0.011,0.006],[0.042,-0.008],[0.074,0.004],[0.106,-0.003],[0.138,0.007],[0.168,-0.006],
[-0.161,-0.035],[-0.129,-0.026],[-0.097,-0.033],[-0.065,-0.023],[-0.033,-0.037],[-0.001,-0.029],[0.031,-0.024],[0.063,-0.037],[0.095,-0.029],[0.127,-0.025],[0.160,-0.035],
[-0.146,-0.065],[-0.114,-0.057],[-0.082,-0.061],[-0.050,-0.054],[-0.018,-0.066],[0.014,-0.058],[0.046,-0.065],[0.078,-0.052],[0.110,-0.063],[0.142,-0.057],[0.170,-0.066],
[-0.163,-0.087],[-0.131,-0.097],[-0.099,-0.091],[-0.067,-0.083],[-0.035,-0.090],[-0.003,-0.095],[0.029,-0.085],[0.061,-0.096],[0.093,-0.084],[0.125,-0.093],[0.156,-0.086],
[-0.156,-0.126],[-0.125,-0.119],[-0.093,-0.113],[-0.061,-0.124],[-0.029,-0.118],[0.003,-0.124],[0.035,-0.117],[0.067,-0.128],[0.099,-0.115],[0.131,-0.122],
[-0.124,-0.157],[-0.090,-0.148],[-0.057,-0.154],[-0.024,-0.146],[0.008,-0.151],[0.041,-0.158],[0.073,-0.146],[0.105,-0.151],[0.137,-0.157]];

var cyclingInner = [[-0.138,0.172],[-0.105,0.181],[-0.073,0.187],[-0.041,0.174],[-0.010,0.185],[0.016,0.176],[0.044,0.184],[0.078,0.179],[0.109,0.172],
[-0.161,0.145],[-0.131,0.152],[-0.099,0.139],[-0.068,0.148],[-0.037,0.153],[-0.006,0.145],[0.024,0.158],[0.053,0.149],[0.085,0.142],[0.115,0.151],[0.146,0.156],
[-0.158,0.126],[-0.126,0.112],[-0.094,0.122],[-0.062,0.130],[-0.031,0.116],[0.000,0.127],[0.031,0.110],[0.062,0.123],[0.094,0.118],[0.125,0.131],[0.156,0.117],
[-0.153,0.089],[-0.121,0.097],[-0.089,0.088],[-0.057,0.083],[-0.026,0.091],[0.006,0.086],[0.038,0.097],[0.069,0.083],[0.101,0.092],[0.132,0.086],[0.164,0.098],
[-0.159,0.055],[-0.127,0.061],[-0.095,0.066],[-0.064,0.055],[-0.033,0.061],[-0.001,0.068],[0.030,0.052],[0.062,0.064],[0.093,0.057],[0.125,0.067],[0.156,0.054],
[-0.150,0.029],[-0.118,0.038],[-0.086,0.024],[-0.055,0.032],[-0.023,0.037],[0.009,0.021],[0.041,0.030],[0.073,0.035],[0.104,0.021],[0.136,0.028],[0.167,0.038],
[-0.156,-0.005],[-0.124,0.004],[-0.093,-0.009],[-0.061,0.008],[-0.029,-0.002],[0.003,0.007],[0.034,-0.006],[0.066,0.002],[0.098,0.009],[0.130,-0.003],[0.162,0.003],
[-0.148,-0.030],[-0.116,-0.036],[-0.084,-0.025],[-0.052,-0.035],[-0.020,-0.029],[0.012,-0.023],[0.044,-0.033],[0.076,-0.025],[0.108,-0.038],[0.140,-0.029],[0.167,-0.024],
[-0.154,-0.054],[-0.122,-0.066],[-0.090,-0.058],[-0.058,-0.064],[-0.026,-0.052],[0.006,-0.067],[0.038,-0.055],[0.070,-0.059],[0.102,-0.066],[0.134,-0.056],[0.164,-0.063],
[-0.155,-0.092],[-0.123,-0.085],[-0.091,-0.094],[-0.059,-0.088],[-0.027,-0.097],[0.005,-0.084],[0.037,-0.089],[0.069,-0.095],[0.101,-0.087],[0.133,-0.083],[0.162,-0.090],
[-0.148,-0.113],[-0.117,-0.121],[-0.085,-0.128],[-0.053,-0.121],[-0.021,-0.113],[0.011,-0.119],[0.043,-0.126],[0.075,-0.117],[0.107,-0.124],[0.139,-0.113],
[-0.116,-0.144],[-0.082,-0.151],[-0.049,-0.157],[-0.016,-0.149],[0.016,-0.145],[0.049,-0.153],[0.081,-0.148],[0.113,-0.156],[0.144,-0.145]];

var POINTS = [
  yogaEdge.concat(yogaCore, yogaInner),
  cardioEdge.concat(cardioCore, cardioInner),
  strengthEdge.concat(strengthCore, strengthInner),
  runningEdge.concat(runningCore, runningInner),
  hiitEdge.concat(hiitCore, hiitInner),
  cyclingEdge.concat(cyclingCore, cyclingInner)
];

var FONT = 'DejaVu Sans';

function tickFmt(v) {
  return (v < 0 ? '\u2212' : '') + Math.abs(v).toFixed(1);
}

// seaborn draws all hues in one pass, so split each type into chunks and interleave them
var series = [];
for (var k = 0; k < 4; k++) {
  TYPES.forEach(function(t, ti) {
    series.push({
      name: t, type: 'scatter',
      data: POINTS[ti].filter(function(p, i) { return i % 4 === k; }),
      symbol: 'circle', symbolSize: 8.2,
      itemStyle: { color: COLORS[ti], opacity: 0.7, borderColor: '#ffffff', borderWidth: 0.8 },
      emphasis: { disabled: true },
      silent: true, progressive: 0, large: false
    });
  });
}

var chart = echarts.init(document.getElementById('chart'));
chart.setOption({
  animation: false,
  backgroundColor: '#ffffff',
  textStyle: { fontFamily: FONT },
  title: {
    text: 'User Embeddings from SVD (Colored by Workout Type)',
    left: 304, top: 16, padding: 0,
    textStyle: { fontFamily: FONT, fontSize: 16.7, fontWeight: 'normal', color: '#000' }
  },
  legend: {
    data: TYPES, orient: 'vertical',
    left: 869, top: 44,
    padding: [6.5, 6, 7, 14.9],
    itemWidth: 38, itemHeight: 8.2, itemGap: 7,
    icon: 'circle',
    itemStyle: { opacity: 0.7, borderColor: '#ffffff', borderWidth: 0.8 },
    backgroundColor: 'rgba(255,255,255,0.8)',
    borderColor: '#cccccc', borderWidth: 1, borderRadius: 3,
    textStyle: { fontFamily: FONT, fontSize: 13.9, color: '#000' }
  },
  grid: {
    left: 78.5, right: 14.5, top: 37, bottom: 58,
    show: true, borderColor: '#000', borderWidth: 1.1, backgroundColor: 'transparent'
  },
  xAxis: {
    type: 'value', min: -0.4832, max: 0.3965, splitNumber: 8,
    name: 'PC1', nameLocation: 'middle', nameGap: 27,
    nameTextStyle: { fontFamily: FONT, fontSize: 13.9, color: '#000' },
    axisLine: { show: true, onZero: false, lineStyle: { color: '#000', width: 1.1 } },
    axisTick: { show: true, length: 4.9, lineStyle: { color: '#000', width: 1.1 } },
    axisLabel: { show: true, margin: 8, fontFamily: FONT, fontSize: 13.9, color: '#000',
      showMinLabel: false, showMaxLabel: false, formatter: tickFmt },
    splitLine: { show: false }
  },
  yAxis: {
    type: 'value', min: -0.4749, max: 0.3541, splitNumber: 8,
    name: 'PC2', nameLocation: 'middle', nameGap: 40, nameRotate: 90,
    nameTextStyle: { fontFamily: FONT, fontSize: 13.9, color: '#000' },
    axisLine: { show: true, onZero: false, lineStyle: { color: '#000', width: 1.1 } },
    axisTick: { show: true, length: 4.9, lineStyle: { color: '#000', width: 1.1 } },
    axisLabel: { show: true, margin: 9, fontFamily: FONT, fontSize: 13.9, color: '#000',
      showMinLabel: false, showMaxLabel: false, formatter: tickFmt },
    splitLine: { show: false }
  },
  series: series
});
</script>
</body>
</html>
